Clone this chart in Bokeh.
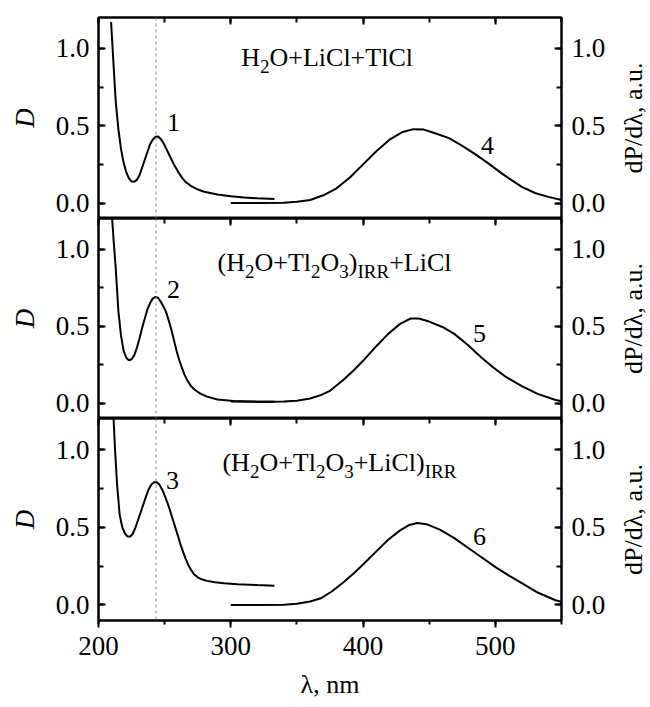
from bokeh.plotting import figure
from bokeh.models import (LinearAxis, Range1d, SingleIntervalTicker, Span,
                          PrintfTickFormatter, CustomJSTickFormatter)
from bokeh.layouts import column, row
from bokeh.core.properties import value
from bokeh.embed import file_html
from bokeh.resources import INLINE

# ---------------- data ----------------
# absorption spectra (left axis D)
abs1_x = [209.5, 211, 213, 215, 217, 219, 221, 223, 225, 227, 229, 231, 233, 235, 237, 239, 241, 243, 245,
          247, 249, 251, 253, 255, 257, 260, 263, 266, 270, 275, 280, 290, 300, 310, 320, 333]
abs1_y = [1.17, 0.95, 0.66, 0.48, 0.35, 0.26, 0.20, 0.16, 0.14, 0.138, 0.15, 0.18, 0.23, 0.28, 0.33, 0.38, 0.41,
          0.428, 0.43, 0.415, 0.39, 0.355, 0.32, 0.285, 0.25, 0.205, 0.165, 0.135, 0.11, 0.088, 0.073, 0.055,
          0.044, 0.036, 0.031, 0.026]

abs2_x = [210.3, 211.5, 213, 215, 217, 219, 221, 223, 225, 227, 229, 231, 233, 235, 237, 239, 241, 243, 245,
          247, 249, 251, 253, 255, 257, 259, 261, 263, 265, 267, 270, 273, 277, 282, 290, 302, 315, 333]
abs2_y = [1.2, 1.05, 0.88, 0.6, 0.44, 0.34, 0.295, 0.278, 0.285, 0.31, 0.36, 0.42, 0.49, 0.55, 0.61, 0.65, 0.68,
          0.69, 0.685, 0.66, 0.63, 0.595, 0.54, 0.48, 0.41, 0.34, 0.28, 0.23, 0.185, 0.15, 0.11, 0.085, 0.062,
          0.042, 0.024, 0.013, 0.01, 0.009]

abs3_x = [211.4, 212.5, 214, 216, 218, 220, 222, 224, 226, 228, 230, 232, 234, 236, 238, 240, 242, 244, 246,
          248, 250, 252, 254, 256, 258, 260, 262, 264, 266, 268, 270, 272, 275, 278, 282, 288, 295, 305, 320, 333]
abs3_y = [1.2, 1.0, 0.78, 0.58, 0.5, 0.46, 0.44, 0.44, 0.46, 0.5, 0.55, 0.6, 0.65, 0.7, 0.745, 0.775, 0.79, 0.79,
          0.775, 0.745, 0.705, 0.66, 0.61, 0.555, 0.5, 0.445, 0.39, 0.34, 0.295, 0.255, 0.225, 0.2, 0.178,
          0.165, 0.155, 0.146, 0.14, 0.134, 0.128, 0.124]

# emission derivative spectra (right axis dP/dλ)
em4_x = [300, 320, 340, 350, 360, 370, 380, 390, 400, 410, 420, 430, 438, 446, 455, 465, 475, 485, 495, 505,
         512, 520, 530, 540, 550]
em4_y = [0.0, 0.0, 0.002, 0.008, 0.02, 0.05, 0.095, 0.165, 0.25, 0.335, 0.41, 0.46, 0.478, 0.475, 0.45, 0.42,
         0.37, 0.315, 0.255, 0.19, 0.15, 0.105, 0.065, 0.04, 0.02]

em5_x = [300, 320, 340, 350, 360, 368, 375, 385, 393, 400, 410, 419, 428, 436, 442, 450, 460, 469, 479, 489,
         498, 508, 520, 532, 545, 550]
em5_y = [0.01, 0.008, 0.01, 0.015, 0.03, 0.052, 0.08, 0.15, 0.214, 0.275, 0.37, 0.45, 0.515, 0.55, 0.55, 0.53,
         0.495, 0.45, 0.38, 0.30, 0.235, 0.17, 0.11, 0.06, 0.022, 0.012]

em6_x = [300, 320, 340, 350, 360, 368, 376, 385, 393, 400, 410, 419, 428, 435, 441, 448, 458, 469, 479, 489,
         499, 510, 520, 532, 545, 550]
em6_y = [0.0, 0.0, 0.002, 0.008, 0.022, 0.043, 0.085, 0.145, 0.204, 0.26, 0.345, 0.42, 0.48, 0.515, 0.527,
         0.52, 0.485, 0.43, 0.37, 0.31, 0.25, 0.19, 0.14, 0.08, 0.032, 0.02]

peak_wavelength = 243.5

curve_numbers = ["1", "2", "3", "4", "5", "6"]
curve_num_x = [256.7, 256.7, 256.0, 494.0, 488.0, 488.0]
curve_num_y = [0.52, 0.74, 0.80, 0.374, 0.45, 0.44]

# titles: (text, is_subscript)
title1 = [("H", 0), ("2", 1), ("O+LiCl+TlCl", 0)]
title2 = [("(H", 0), ("2", 1), ("O+Tl", 0), ("2", 1), ("O", 0), ("3", 1), (")", 0), ("IRR", 1), ("+LiCl", 0)]
title3 = [("(H", 0), ("2", 1), ("O+Tl", 0), ("2", 1), ("O", 0), ("3", 1), ("+LiCl)", 0), ("IRR", 1)]
title_x = [307.9, 290.0, 293.7]
title_y = [0.94, 0.915, 0.916]

left_label = "D"
right_label = "dP/dλ, a.u."
x_label = "λ, nm"

# ---------------- styling / layout ----------------
FONT = "Liberation Serif"
MAIN = 26
SUB = 19
TICK_FS = "27px"

PANEL_FRAME_H = [201, 200, 202]
PANEL_TOP = [17, 0, 0]
PANEL_BOTTOM = [0, 0, 87]

LEFT_W = 42
RIGHT_W = 41
MAIN_W = 650 - LEFT_W - RIGHT_W

TIMES_W = {'H': 722, 'O': 722, '+': 564, 'L': 611, 'i': 278, 'C': 667, 'l': 278, 'T': 611,
           '(': 333, ')': 333, '2': 500, '3': 500, 'I': 333, 'R': 667}


def text_width(s, size):
    return sum(TIMES_W.get(c, 500) for c in s) / 1000.0 * size


def style_axis(ax, ticker, show_labels=True, outward=False):
    ax.ticker = ticker
    ax.axis_line_width = 2
    ax.axis_line_color = "black"
    ax.major_tick_line_width = 2
    ax.minor_tick_line_width = 2
    ax.major_tick_line_color = "black"
    ax.minor_tick_line_color = "black"
    if outward:
        ax.major_tick_in, ax.major_tick_out = 0, 7
        ax.minor_tick_in, ax.minor_tick_out = 0, 4
    else:
        ax.major_tick_in, ax.major_tick_out = 7, 0
        ax.minor_tick_in, ax.minor_tick_out = 5, 0
    ax.major_label_text_font = FONT
    ax.major_label_text_color = "black"
    ax.axis_label_text_font = FONT
    ax.axis_label_text_color = "black"
    ax.axis_label_text_font_style = "normal"
    if show_labels:
        ax.major_label_text_font_size = TICK_FS
    else:
        ax.formatter = CustomJSTickFormatter(code="return ''")
        ax.major_label_text_font_size = "1px"
        ax.major_label_standoff = 0


def title_strip(text, width, height, top, bottom, size, style):
    """Narrow canvas whose only content is a vertical (bottom-to-top) axis title."""
    frame_w = 2
    f = figure(width=width, height=height, x_range=Range1d(0, 1), y_range=Range1d(0, 1),
               output_backend="svg", toolbar_location=None,
               x_axis_location=None, y_axis_location=None,
               min_border_left=width - frame_w, min_border_right=0,
               min_border_top=top, min_border_bottom=bottom)
    f.outline_line_color = None
    f.xgrid.visible = False
    f.ygrid.visible = False
    f.background_fill_color = "white"
    f.border_fill_color = "white"
    ax = LinearAxis(axis_label=text)
    style_axis(ax, SingleIntervalTicker(interval=10, num_minor_ticks=0), show_labels=False)
    ax.axis_line_color = None
    ax.major_tick_line_color = None
    ax.minor_tick_line_color = None
    ax.major_tick_in = ax.major_tick_out = 0
    ax.minor_tick_in = ax.minor_tick_out = 0
    ax.axis_label_text_font_size = size
    ax.axis_label_text_font_style = style
    ax.axis_label_standoff = 1
    f.add_layout(ax, "left")
    return f


def make_panel(i, abs_x, abs_y, em_x, em_y, title, nums, bottom):
    h = PANEL_FRAME_H[i] + PANEL_TOP[i] + PANEL_BOTTOM[i]
    p = figure(width=MAIN_W, height=h,
               x_range=Range1d(200, 550), y_range=Range1d(-0.1, 1.2),
               output_backend="svg", toolbar_location=None,
               x_axis_location=None, y_axis_location=None,
               min_border_left=98 - LEFT_W, min_border_right=650 - RIGHT_W - 561,
               min_border_top=PANEL_TOP[i], min_border_bottom=PANEL_BOTTOM[i])
    p.extra_y_ranges = {"right": Range1d(-0.1, 1.2)}
    p.xgrid.visible = False
    p.ygrid.visible = False
    p.outline_line_color = "black"
    p.outline_line_width = 2
    p.background_fill_color = "white"
    p.border_fill_color = "white"

    left = LinearAxis(formatter=PrintfTickFormatter(format="%.1f"))
    style_axis(left, SingleIntervalTicker(interval=0.5, num_minor_ticks=2))
    left.major_label_standoff = 9
    p.add_layout(left, "left")

    right = LinearAxis(y_range_name="right", formatter=PrintfTickFormatter(format="%.1f"))
    style_axis(right, SingleIntervalTicker(interval=0.5, num_minor_ticks=2))
    right.major_label_standoff = 10
    p.add_layout(right, "right")

    top = LinearAxis()
    style_axis(top, SingleIntervalTicker(interval=100, num_minor_ticks=2), show_labels=False)
    p.add_layout(top, "above")

    if bottom:
        bot = LinearAxis(axis_label=x_label)
        style_axis(bot, SingleIntervalTicker(interval=100, num_minor_ticks=2), outward=True)
        bot.major_label_standoff = 9
        bot.axis_label_text_font_size = "26px"
        bot.axis_label_standoff = 12
        p.add_layout(bot, "below")

    p.add_layout(Span(location=peak_wavelength, dimension="height", line_color="#8a8a8a",
                      line_dash="3 3", line_width=1))

    p.line(abs_x, abs_y, line_color="black", line_width=2)
    p.line(em_x, em_y, line_color="black", line_width=2, y_range_name="right")

    for (idx, yr) in nums:
        p.text(x=[curve_num_x[idx]], y=[curve_num_y[idx]], text=[curve_numbers[idx]],
               text_font=value(FONT), text_font_size=value("26px"), text_align="center",
               text_baseline="middle", text_color="black",
               y_range_name=yr)

    off = 0.0
    for s, is_sub in title:
        size = SUB if is_sub else MAIN
        p.text(x=[title_x[i]], y=[title_y[i]], text=[s], text_font=value(FONT),
               text_font_size=value(f"{size}px"),
               text_align="left", text_baseline="alphabetic", text_color="black",
               x_offset=off, y_offset=(9 if is_sub else 0))
        off += text_width(s, size)

    dstrip = title_strip(left_label, LEFT_W, h, PANEL_TOP[i], PANEL_BOTTOM[i], "27px", "italic")
    rstrip = title_strip(right_label, RIGHT_W, h, PANEL_TOP[i], PANEL_BOTTOM[i], "26px", "normal")
    return row(dstrip, p, rstrip, spacing=0)


r1 = make_panel(0, abs1_x, abs1_y, em4_x, em4_y, title1, [(0, "default"), (3, "right")], False)
r2 = make_panel(1, abs2_x, abs2_y, em5_x, em5_y, title2, [(1, "default"), (4, "right")], False)
r3 = make_panel(2, abs3_x, abs3_y, em6_x, em6_y, title3, [(2, "default"), (5, "right")], True)

layout = column(r1, r2, r3, spacing=0)
open("out.html", "w").write(file_html(layout, INLINE))
